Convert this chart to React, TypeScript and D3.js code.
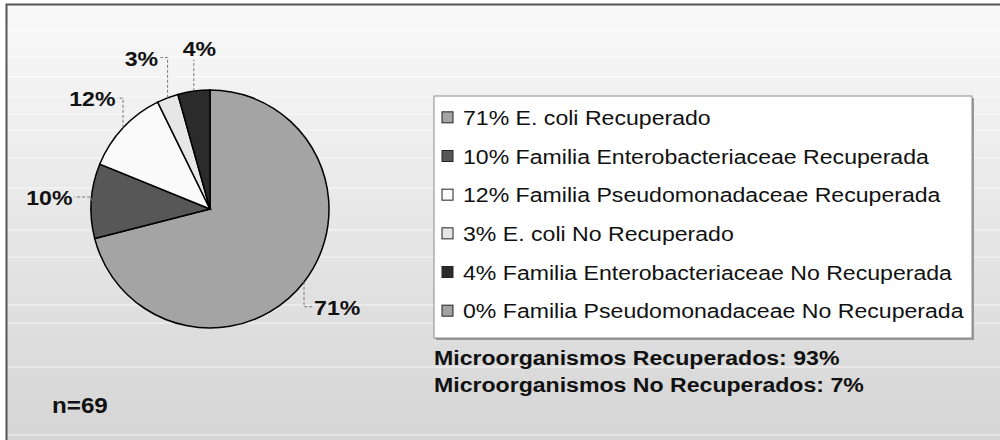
import React from "react";
import * as d3 from "d3";

// data (n = 69)
const categories = [
  "E. coli Recuperado",
  "Familia Enterobacteriaceae Recuperada",
  "Familia Pseudomonadaceae Recuperada",
  "E. coli No Recuperado",
  "Familia Enterobacteriaceae No Recuperada",
  "Familia Pseudomonadaceae No Recuperada",
];
const counts = [49, 7, 8, 2, 3, 0];
const recovered = [true, true, true, false, false, false];

const sliceColors = ["#a4a4a4", "#575757", "#fafafa", "#e6e6e6", "#2b2b2b", "#a2a2a2"];
// faint banding lines seen in the background
const bandLines = [31, 57, 77, 96, 114, 130, 158, 188, 230, 257, 305, 323, 367, 435];

const W = 1000;
const H = 440;
const FONT = "'Liberation Sans', Arial, sans-serif";
const SX = 1.1; // text in the reference is slightly wide

const cx = 210;
const cy = 209;
const radius = 119;

type Row = { name: string; value: number; idx: number };

const App = () => {
  const rows: Row[] = categories.map((name, i) => ({ name, value: counts[i], idx: i }));
  const total = d3.sum(counts);
  const pct = (v: number) => Math.round((v / total) * 100);

  const pie = d3.pie<Row>().sort(null).value(d => d.value);
  const arcs = pie(rows);
  const arc = d3.arc<d3.PieArcDatum<Row>>().innerRadius(0).outerRadius(radius);

  const recPct = pct(d3.sum(rows.filter(r => recovered[r.idx]), r => r.value));
  const noRecPct = pct(d3.sum(rows.filter(r => !recovered[r.idx]), r => r.value));

  // legend layout
  const legX = 434, legY = 96, legW = 538, legH = 242;
  const legRow = d3.scaleBand<number>().domain(rows.map(r => r.idx)).range([legY + 2, legY + legH - 8]);

  // label placement along the mid angle, then spread apart if crowded
  const labelFs = 21;
  const placed = arcs
    .filter(a => a.data.value > 0)
    .map(a => {
      const mid = (a.startAngle + a.endAngle) / 2;
      const text = pct(a.data.value) + "%";
      return {
        text,
        ex: cx + radius * Math.sin(mid),
        ey: cy - radius * Math.cos(mid),
        lx: cx + (radius + 42) * Math.sin(mid),
        ly: cy - (radius + 42) * Math.cos(mid),
        tw: text.length === 3 ? 46 : 34,
      };
    });
  for (let iter = 0; iter < 20; iter++) {
    for (let i = 0; i < placed.length; i++) {
      for (let j = i + 1; j < placed.length; j++) {
        const a = placed[i], b = placed[j];
        if (Math.abs(a.ly - b.ly) > 20) continue;
        const need = a.tw / 2 + b.tw / 2 + 24;
        const d = Math.abs(a.lx - b.lx);
        if (d < need) {
          const push = (need - d) / 2;
          if (a.lx < b.lx) { a.lx -= push; b.lx += push; } else { a.lx += push; b.lx -= push; }
        }
      }
    }
  }
  const labels = placed.map(p => {
    const left = p.lx - p.tw / 2;
    const right = p.lx + p.tw / 2;
    let pts: [number, number][];
    if (p.ex >= left && p.ex <= right) {
      const ty = p.ly < p.ey ? p.ly + 10 : p.ly - 10;
      pts = [[p.ex, p.ey], [p.ex, ty]];
    } else {
      const sx = p.ex < left ? left - 2 : right + 2;
      pts = [[p.ex, p.ey], [p.ex, p.ly - 1], [sx, p.ly - 1]];
    }
    return { ...p, pts };
  });

  const line = d3.line();

  return (
    <svg width={W} height={H} style={{ position: "absolute", left: 0, top: 0 }} fontFamily={FONT}>
      <defs>
        <linearGradient id="bg" x1="0" y1="0" x2="0" y2="1">
          <stop offset="0" stopColor="#f9f9f9" />
          <stop offset="0.5" stopColor="#e6e6e6" />
          <stop offset="1" stopColor="#d4d4d4" />
        </linearGradient>
      </defs>
      <rect x={0} y={0} width={W} height={H} fill="#ffffff" />
      <rect x={6.5} y={4.5} width={W + 10} height={H + 10} fill="url(#bg)" stroke="#555" strokeWidth={2} />
      {bandLines.map(y => (
        <line key={y} x1={8} x2={W} y1={y} y2={y} stroke="#ffffff" strokeOpacity={0.7} strokeWidth={1} />
      ))}

      {/* pie */}
      <g transform={`translate(${cx},${cy})`}>
        {arcs.filter(a => a.data.value > 0).map(a => (
          <path key={a.data.idx} d={arc(a) || ""} fill={sliceColors[a.data.idx]} stroke="#000" strokeWidth={1.5} />
        ))}
      </g>

      {/* leader lines and labels */}
      {labels.map(l => (
        <g key={l.text}>
          <path d={line(l.pts) || ""} fill="none" stroke="#777" strokeWidth={1} strokeDasharray="3,2" />
          <g transform={`translate(${l.lx},${l.ly + 7}) scale(${SX},1)`}>
            <text textAnchor="middle" fontSize={labelFs} fontWeight="bold" fill="#111">{l.text}</text>
          </g>
        </g>
      ))}

      {/* legend */}
      <rect x={legX + 2} y={legY + 2} width={legW} height={legH} fill="#9a9a9a" />
      <rect x={legX} y={legY} width={legW} height={legH} fill="#ffffff" stroke="#8a8a8a" strokeWidth={1} />
      {rows.map(r => {
        const y = (legRow(r.idx) || 0) + legRow.bandwidth() / 2;
        return (
          <g key={r.idx}>
            <rect x={legX + 8} y={y - 5.5} width={11} height={11} fill={sliceColors[r.idx]} stroke="#222" strokeWidth={1} />
            <g transform={`translate(${legX + 29},${y + 7.5}) scale(${SX},1)`}>
              <text fontSize={21} fill="#111">{`${pct(r.value)}% ${r.name}`}</text>
            </g>
          </g>
        );
      })}

      {/* summary */}
      <g transform={`translate(${legX},365) scale(${SX},1)`}>
        <text fontSize={21} fontWeight="bold" fill="#111">{`Microorganismos Recuperados: ${recPct}%`}</text>
      </g>
      <g transform={`translate(${legX},392) scale(${SX},1)`}>
        <text fontSize={21} fontWeight="bold" fill="#111">{`Microorganismos No Recuperados: ${noRecPct}%`}</text>
      </g>
      <g transform={`translate(52,413) scale(${SX},1)`}>
        <text fontSize={22} fontWeight="bold" fill="#111">{`n=${total}`}</text>
      </g>
    </svg>
  );
};

export default App;
